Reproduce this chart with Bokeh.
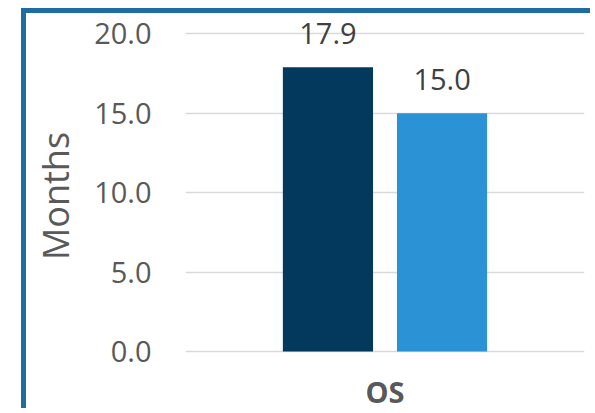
from bokeh.plotting import figure
from bokeh.models import ColumnDataSource, FactorRange, FixedTicker, Range1d, CustomJSTickFormatter
from bokeh.transform import dodge
from bokeh.core.properties import value
from bokeh.embed import file_html
from bokeh.resources import INLINE

categories = ["OS"]
series_names = ["Arm A", "Arm B"]
series_values = [17.9, 15.0]
series_colors = ["#02395C", "#2B92D5"]
y_ticks = [0, 5, 10, 15, 20]
y_label = "Months"

FONT = "Open Sans"
TXT = "#595959"
BORDER = "#1F6BA3"

p = figure(width=569, height=400, x_range=FactorRange(*categories),
           y_range=Range1d(-1.695, 21.287), output_backend="svg", toolbar_location=None,
           min_border_left=159, min_border_right=11, min_border_top=0, min_border_bottom=34)
p.styles = {"border-top": f"5px solid {BORDER}", "border-left": f"5px solid {BORDER}",
            "margin-left": "21px", "margin-top": "8px"}
p.outline_line_color = None
p.background_fill_color = "white"
p.border_fill_color = "white"

offsets = [-0.143, 0.143]
for name, val, col, off in zip(series_names, series_values, series_colors, offsets):
    src = ColumnDataSource(dict(cat=categories, v=[val], lab=[f"{val:.1f}"]))
    p.vbar(x=dodge("cat", off, range=p.x_range), top="v", bottom=0, width=0.226, source=src,
           fill_color=col, line_color=None)
    p.text(x=dodge("cat", off, range=p.x_range), y="v", text="lab", source=src,
           text_align="center", text_baseline="alphabetic", y_offset=-34,
           text_font=value(FONT), text_font_size="29px", text_color="#404040")

p.xgrid.grid_line_color = None
p.ygrid.grid_line_color = "#D9D9D9"
p.ygrid.grid_line_width = 1.5
p.ygrid.ticker = FixedTicker(ticks=y_ticks)

p.yaxis.ticker = FixedTicker(ticks=y_ticks)
p.yaxis.formatter = CustomJSTickFormatter(code="return tick.toFixed(1);")
p.yaxis.axis_line_color = None
p.yaxis.major_tick_line_color = None
p.yaxis.minor_tick_line_color = None
p.yaxis.major_tick_out = 0
p.yaxis.major_tick_in = 0
p.yaxis.minor_tick_out = 0
p.yaxis.major_label_text_font = FONT
p.yaxis.major_label_text_font_size = "29px"
p.yaxis.major_label_text_color = TXT
p.yaxis.major_label_standoff = 34
p.yaxis.axis_label = y_label
p.yaxis.axis_label_text_font = FONT
p.yaxis.axis_label_text_font_size = "36px"
p.yaxis.axis_label_text_font_style = "normal"
p.yaxis.axis_label_text_color = TXT
p.yaxis.axis_label_standoff = 11

p.xaxis.axis_line_color = None
p.xaxis.major_tick_line_color = None
p.xaxis.minor_tick_line_color = None
p.xaxis.major_tick_out = 0
p.xaxis.major_tick_in = 0
p.xaxis.minor_tick_out = 0
p.xaxis.major_label_text_font = FONT
p.xaxis.major_label_text_font_size = "29px"
p.xaxis.major_label_text_font_style = "bold"
p.xaxis.major_label_text_color = TXT
p.xaxis.major_label_standoff = -7

open("out.html", "w").write(file_html(p, INLINE))
